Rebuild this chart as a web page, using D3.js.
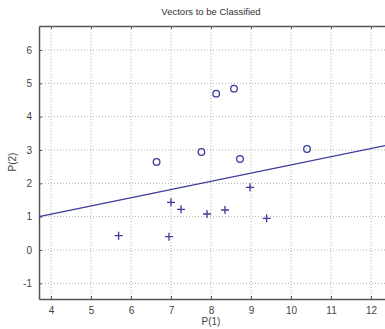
<!DOCTYPE html>
<html>
<head>
<meta charset="utf-8">
<script src="https://cdn.jsdelivr.net/npm/d3@7"></script>
<style>
  body { margin: 0; background: #fff; }
  text { font-family: "Liberation Sans", Arial, sans-serif; }
</style>
</head>
<body>
<div id="chart"></div>
<script>
// Dados
const circleX = [8.13, 8.575, 7.76, 8.725, 6.64, 10.4];
const circleY = [4.69, 4.84, 2.94, 2.73, 2.64, 3.03];
const crossX = [5.69, 6.95, 7.0, 7.25, 7.9, 8.35, 8.975, 9.39];
const crossY = [0.43, 0.40, 1.43, 1.22, 1.08, 1.2, 1.88, 0.95];
const lineX = [3.7, 12.7];
const lineY = [1.0, 3.22];
const xTicks = [4, 5, 6, 7, 8, 9, 10, 11, 12];
const yTicks = [-1, 0, 1, 2, 3, 4, 5, 6];

const width = 385, height = 329;
const blue = "#3a3a9a";
const axisColor = "#555";

const svg = d3.select("#chart").append("svg")
  .attr("width", width).attr("height", height);

const x = d3.scaleLinear().domain([3.7, 12.7]).range([39, 399]);
const y = d3.scaleLinear().domain([-1.47, 6.72]).range([299, 26]);

// grade pontilhada
const grid = svg.append("g");
grid.selectAll(".vg").data(xTicks).enter().append("line")
  .attr("x1", d => x(d)).attr("x2", d => x(d))
  .attr("y1", y.range()[1]).attr("y2", y.range()[0])
  .attr("stroke", "#b0b0b0").attr("stroke-dasharray", "1,2");
grid.selectAll(".hg").data(yTicks).enter().append("line")
  .attr("x1", x.range()[0]).attr("x2", x.range()[1])
  .attr("y1", d => y(d)).attr("y2", d => y(d))
  .attr("stroke", "#b0b0b0").attr("stroke-dasharray", "1,2");

// eixos
const xAxis = svg.append("g")
  .attr("transform", `translate(0,${y.range()[0]})`)
  .call(d3.axisBottom(x).tickValues(xTicks).tickSizeInner(-3).tickSizeOuter(0).tickPadding(8));
const xAxisTop = svg.append("g")
  .attr("transform", `translate(0,${y.range()[1]})`)
  .call(d3.axisTop(x).tickValues(xTicks).tickSizeInner(-3).tickSizeOuter(0).tickFormat(""));
const yAxis = svg.append("g")
  .attr("transform", `translate(${x.range()[0]},0)`)
  .call(d3.axisLeft(y).tickValues(yTicks).tickSizeInner(-3).tickSizeOuter(0).tickPadding(7)
    .tickFormat(d => d < 0 ? "-" + Math.abs(d) : d));

[xAxis, xAxisTop, yAxis].forEach(a => {
  a.select(".domain").attr("stroke", axisColor).attr("stroke-width", 1.5);
  a.selectAll(".tick line").attr("stroke", axisColor);
  a.selectAll(".tick text").attr("fill", "#444").style("font-size", "10px");
});

// reta de separação
svg.append("line")
  .attr("x1", x(lineX[0])).attr("y1", y(lineY[0]))
  .attr("x2", x(lineX[1])).attr("y2", y(lineY[1]))
  .attr("stroke", blue).attr("stroke-width", 1.2);

// círculos
svg.selectAll(".c").data(circleX).enter().append("circle")
  .attr("cx", d => x(d)).attr("cy", (d, i) => y(circleY[i]))
  .attr("r", 3.3).attr("fill", "none")
  .attr("stroke", blue).attr("stroke-width", 1.3);

// cruzes
svg.selectAll(".p").data(crossX).enter().append("path")
  .attr("d", (d, i) => {
    const cx = x(d), cy = y(crossY[i]), s = 4;
    return `M${cx - s},${cy}H${cx + s}M${cx},${cy - s}V${cy + s}`;
  })
  .attr("stroke", blue).attr("stroke-width", 1.3);

// textos
svg.append("text").attr("x", 211).attr("y", 15).attr("text-anchor", "middle")
  .style("font-size", "9.5px").attr("fill", "#333").text("Vectors to be Classified");
svg.append("text").attr("x", 211).attr("y", 325).attr("text-anchor", "middle")
  .style("font-size", "10px").attr("fill", "#444").text("P(1)");
svg.append("text").attr("transform", "translate(16,162) rotate(-90)").attr("text-anchor", "middle")
  .style("font-size", "10px").attr("fill", "#444").text("P(2)");
</script>
</body>
</html>
